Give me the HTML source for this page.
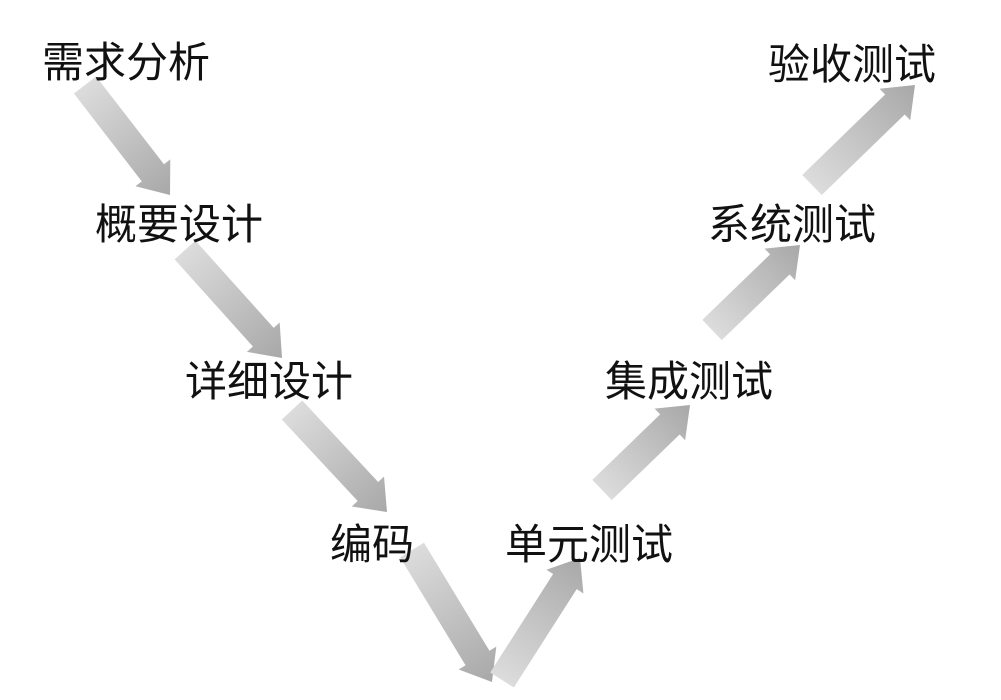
<!DOCTYPE html>
<html><head><meta charset="utf-8"><style>
body{margin:0;width:1001px;height:700px;background:#fff;overflow:hidden;position:relative;font-family:"Liberation Sans","Noto Sans CJK SC",sans-serif}
.t{position:absolute;font-size:42px;line-height:1;color:#111;white-space:nowrap}
svg{position:absolute;left:0;top:0}
</style></head><body>
<svg width="1001" height="700">
<defs>
<linearGradient id="g" x1="0" y1="0" x2="1" y2="0">
<stop offset="0" stop-color="#dcdcdc"/><stop offset="1" stop-color="#a8a8a8"/>
</linearGradient>
</defs>
<g id="arrows"></g>
</svg>
<script>
var A=[[85,85,170,195],[185,250,282,358],[292,410,387,512],[412,550,492,682],[502,680,580,558],[602,490,690,405],[712,330,800,245],[812,185,915,85]];
var s='';
A.forEach(function(a){var dx=a[2]-a[0],dy=a[3]-a[1],L=Math.sqrt(dx*dx+dy*dy),ang=Math.atan2(dy,dx)*180/Math.PI;
var h=28;
s+='<polygon points="0,-14 '+(L-h)+',-14 '+(L-h)+',-22 '+L+',0 '+(L-h)+',22 '+(L-h)+',14 0,14" fill="url(#g)" transform="translate('+a[0]+','+a[1]+') rotate('+ang+')"/>';});
document.getElementById('arrows').innerHTML=s;
</script>
<div class="t" style="left:42px;top:42px">需求分析</div>
<div class="t" style="left:95px;top:204px">概要设计</div>
<div class="t" style="left:185px;top:361px">详细设计</div>
<div class="t" style="left:330px;top:524px">编码</div>
<div class="t" style="left:505px;top:524px">单元测试</div>
<div class="t" style="left:605px;top:361px">集成测试</div>
<div class="t" style="left:708px;top:204px">系统测试</div>
<div class="t" style="left:768px;top:44px">验收测试</div>
</body></html>
